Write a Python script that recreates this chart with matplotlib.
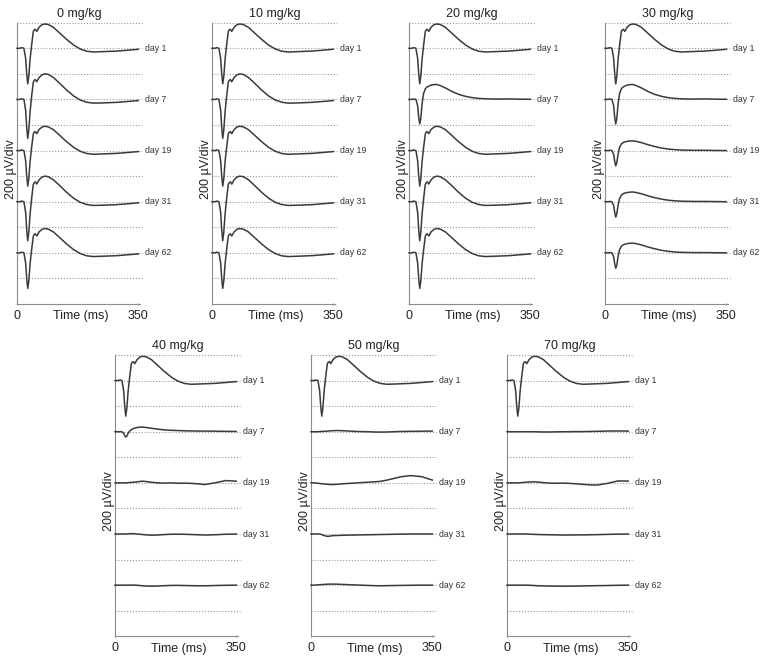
import matplotlib
matplotlib.use("Agg")
import matplotlib.pyplot as plt

plt.rcParams['font.family'] = ['Liberation Sans', 'DejaVu Sans']

# sample times (ms) shared by every trace
t_ms = [0, 8, 14, 20, 25, 28, 31, 34, 38, 42, 47, 50, 53, 57, 64,
        72, 80, 90, 105, 124, 143, 163, 182, 201, 220, 240, 260, 288, 320, 350]

# waveforms in µV relative to the trace baseline
full_std = [0, 0, 5, 0, -80, -200, -278, -220, -80, 20, 130, 145, 148, 132, 165,
            184, 190, 186, 164, 117, 70, 26, -5, -23, -29, -27, -25, -22, -15, -8]
full_deep = [0, 0, 5, 0, -85, -220, -305, -240, -90, 20, 135, 150, 155, 138, 172,
             192, 200, 196, 172, 124, 74, 28, -4, -22, -29, -28, -26, -23, -16, -9]
red_early = [0, 0, 3, 0, -50, -140, -192, -150, -30, 45, 82, 92, 98, 104, 112,
             116, 117, 108, 90, 62, 40, 24, 14, 8, 5, 3, 3, 4, 2, 1]
red_late = [0, 0, 2, 0, -30, -85, -120, -95, -25, 25, 50, 58, 63, 67, 72,
            75, 76, 72, 62, 46, 32, 20, 12, 7, 4, 3, 2, 2, 1, 0]
small_40d7 = [0, 0, 0, 0, -12, -30, -42, -35, -12, 5, 15, 20, 24, 28, 33,
              36, 36, 33, 27, 20, 14, 11, 9, 7, 6, 5, 5, 4, 3, 2]
flat_40d19 = [0, 0, 0, 0, 0, 0, 0, 0, 2, 3, 4, 4, 5, 6, 8,
              11, 13, 10, 5, 0, -2, 0, -3, -2, -4, -8, -13, 0, 18, 13]
flat_40d31 = [0, 0, 0, 0, 0, 0, 0, 0, 1, 2, 3, 3, 3, 2, 0,
              -2, -4, -7, -9, -8, -4, -2, -1, -2, -4, -6, -8, -6, -2, 0]
flat_40d62 = [0, 0, 0, 0, 0, 0, 0, 0, 0, 0, 0, 1, 1, 0, -1,
              -3, -5, -7, -8, -7, -4, -2, -2, -3, -4, -5, -5, -3, -1, 0]
flat_50d7 = [0, 0, 0, 0, 1, 2, 2, 3, 3, 4, 5, 6, 6, 7, 8,
             9, 9, 8, 6, 3, 1, 0, -2, -3, -2, 0, 2, 3, 4, 5]
flat_50d19 = [0, 0, -1, -3, -5, -6, -7, -8, -9, -10, -11, -12, -12, -13, -13,
              -12, -10, -8, -5, -2, 2, 5, 8, 12, 22, 35, 48, 57, 48, 22]
flat_50d31 = [0, 0, 0, 1, 0, -2, -5, -8, -12, -15, -18, -18, -17, -15, -13,
              -12, -11, -10, -9, -8, -7, -6, -5, -4, -3, -2, -1, 0, 0, 0]
flat_50d62 = [0, 0, 1, 2, 3, 4, 4, 5, 6, 7, 7, 8, 8, 8, 8,
              8, 7, 6, 4, 2, 0, -2, -4, -5, -4, -3, -2, -1, 0, 0]
flat_70d7 = [0, 0, 0, 0, 0, 0, 0, 0, 0, 0, 0, 0, 0, 0, 0,
             0, 0, -1, -2, -2, -1, 0, 0, 1, 1, 2, 3, 5, 6, 5]
flat_70d19 = [0, 0, 0, 0, 0, 0, 0, 0, 1, 2, 3, 4, 5, 6, 7,
              8, 8, 6, 2, -2, -3, -2, -4, -8, -12, -16, -17, -5, 15, 14]
flat_70d31 = [0, 0, 0, 0, 0, 0, 0, 0, 0, 0, 0, 0, 0, 0, -1,
              -2, -3, -4, -5, -6, -7, -8, -8, -7, -7, -6, -5, -3, -1, 0]
flat_70d62 = [0, 0, 0, 0, 0, 0, 0, 0, 0, 0, 0, 0, 0, 0, -1,
              -2, -3, -5, -6, -7, -8, -8, -8, -7, -6, -5, -4, -3, -1, 0]

doses = ['0 mg/kg', '10 mg/kg', '20 mg/kg', '30 mg/kg', '40 mg/kg', '50 mg/kg', '70 mg/kg']
days = ['day 1', 'day 7', 'day 19', 'day 31', 'day 62']
traces = [
    [full_std, full_deep, full_std, full_deep, full_std],
    [full_std, full_deep, full_std, full_deep, full_std],
    [full_std, red_early, full_std, full_deep, full_std],
    [full_std, red_early, red_late, red_late, red_late],
    [full_std, small_40d7, flat_40d19, flat_40d31, flat_40d62],
    [full_std, flat_50d7, flat_50d19, flat_50d31, flat_50d62],
    [full_std, flat_70d7, flat_70d19, flat_70d31, flat_70d62],
]
baselines = [1800, 1400, 1000, 600, 200]  # µV offsets, grid every 200 µV

W, H = 765, 662
fig = plt.figure(figsize=(W / 100, H / 100), dpi=100)

# axes left edges in pixels
lefts = [17, 212, 409, 605, 115, 311, 507]
tops = [22.7, 22.7, 22.7, 22.7, 355, 355, 355]
ax_w, ax_h = 123, 281.3

grey = '#8c8c8c'
for i, dose in enumerate(doses):
    ax = fig.add_axes([lefts[i] / W, (H - tops[i] - ax_h) / H, ax_w / W, ax_h / H])
    ax.set_xlim(0, 355)
    ax.set_ylim(-200, 2000)

    for k in range(11):
        ax.plot([0, 360], [200 * k, 200 * k], color='#999999', lw=0.8,
                ls=(0, (1, 1.6)), clip_on=False, zorder=1)

    for j, wave in enumerate(traces[i]):
        y = [baselines[j] + v for v in wave]
        ax.plot(t_ms, y, color='#3a3a3a', lw=1.1, clip_on=False, zorder=3)
        ax.text(368, baselines[j], days[j], fontsize=6.3, color='#333333',
                ha='left', va='center')

    for s in ['top', 'right']:
        ax.spines[s].set_visible(False)
    ax.spines['left'].set_color(grey)
    ax.spines['bottom'].set_color(grey)
    ax.spines['left'].set_bounds(-200, 2000)
    ax.spines['bottom'].set_bounds(0, 355)
    ax.set_yticks([])
    ax.set_xticks([0, 350])
    ax.set_xticklabels(['0', '350'])
    ax.tick_params(axis='x', length=2, direction='inout', color=grey,
                   labelsize=9, pad=3, labelcolor='#222222')

    ax.set_title(dose, fontsize=9, x=0.51, pad=4, color='#222222')
    ax.annotate('Time (ms)', xy=(0.52, 0), xycoords='axes fraction',
                xytext=(0, -4.5), textcoords='offset points',
                ha='center', va='top', fontsize=9, color='#222222')
    ax.text(-0.045, 0.48, '200 µV/div', transform=ax.transAxes, rotation=90,
            ha='center', va='center', fontsize=9, color='#222222')

fig.savefig('out.png', dpi=100)
